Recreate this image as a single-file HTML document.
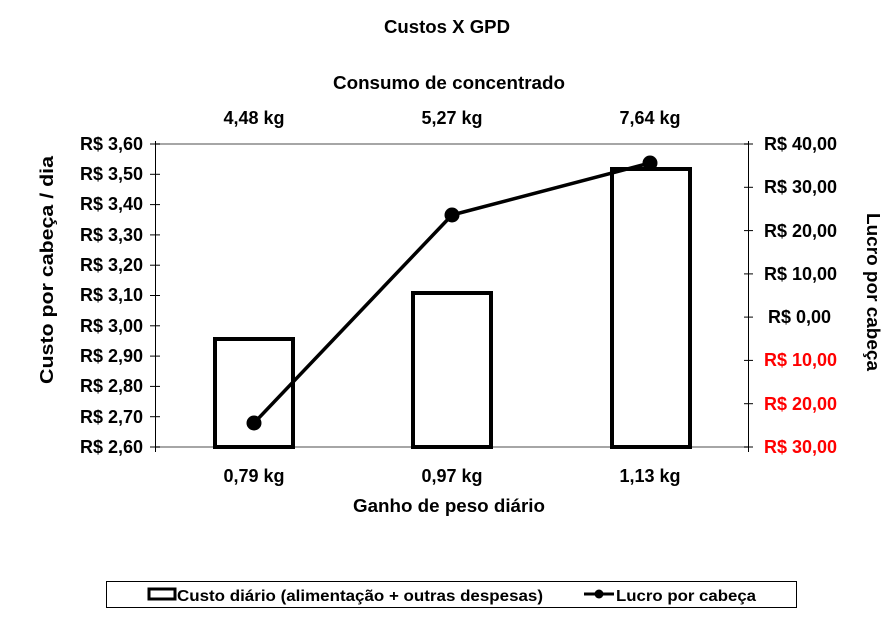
<!DOCTYPE html>
<html><head><meta charset="utf-8"><style>
body{margin:0;background:#fff;}
svg text{font-family:"Liberation Sans",Arial,sans-serif;font-weight:bold;font-size:18px;fill:#000;}
</style></head><body>
<svg width="894" height="618" viewBox="0 0 894 618" xmlns="http://www.w3.org/2000/svg">
<text x="447" y="33" text-anchor="middle" textLength="126" lengthAdjust="spacingAndGlyphs">Custos X GPD</text>
<text x="449" y="89" text-anchor="middle" textLength="232" lengthAdjust="spacingAndGlyphs">Consumo de concentrado</text>
<text x="254" y="124" text-anchor="middle">4,48 kg</text>
<text x="452" y="124" text-anchor="middle">5,27 kg</text>
<text x="650" y="124" text-anchor="middle">7,64 kg</text>
<line x1="155" y1="144" x2="748" y2="144" stroke="#888" stroke-width="1.5"/>
<line x1="155" y1="447" x2="748" y2="447" stroke="#888" stroke-width="1.5"/>
<line x1="155.5" y1="141" x2="155.5" y2="452" stroke="#000" stroke-width="1"/>
<line x1="748.5" y1="141" x2="748.5" y2="452" stroke="#000" stroke-width="1"/>
<g stroke="#000" stroke-width="1">
<line x1="150" y1="144" x2="160" y2="144"/><line x1="150" y1="174.3" x2="160" y2="174.3"/>
<line x1="150" y1="204.6" x2="160" y2="204.6"/><line x1="150" y1="234.9" x2="160" y2="234.9"/>
<line x1="150" y1="265.2" x2="160" y2="265.2"/><line x1="150" y1="295.5" x2="160" y2="295.5"/>
<line x1="150" y1="325.8" x2="160" y2="325.8"/><line x1="150" y1="356.1" x2="160" y2="356.1"/>
<line x1="150" y1="386.4" x2="160" y2="386.4"/><line x1="150" y1="416.7" x2="160" y2="416.7"/>
<line x1="150" y1="447" x2="160" y2="447"/>
<line x1="744" y1="144" x2="753" y2="144"/><line x1="744" y1="187.3" x2="753" y2="187.3"/>
<line x1="744" y1="230.6" x2="753" y2="230.6"/><line x1="744" y1="273.9" x2="753" y2="273.9"/>
<line x1="744" y1="317.1" x2="753" y2="317.1"/><line x1="744" y1="360.4" x2="753" y2="360.4"/>
<line x1="744" y1="403.7" x2="753" y2="403.7"/><line x1="744" y1="447" x2="753" y2="447"/>
</g>
<g text-anchor="end">
<text x="143" y="150">R$ 3,60</text><text x="143" y="180">R$ 3,50</text>
<text x="143" y="210">R$ 3,40</text><text x="143" y="241">R$ 3,30</text>
<text x="143" y="271">R$ 3,20</text><text x="143" y="301">R$ 3,10</text>
<text x="143" y="332">R$ 3,00</text><text x="143" y="362">R$ 2,90</text>
<text x="143" y="392">R$ 2,80</text><text x="143" y="423">R$ 2,70</text>
<text x="143" y="453">R$ 2,60</text>
</g>
<g text-anchor="start">
<text x="764" y="150">R$ 40,00</text><text x="764" y="193">R$ 30,00</text>
<text x="764" y="237">R$ 20,00</text><text x="764" y="280">R$ 10,00</text>
<text x="768" y="323">R$ 0,00</text>
<text x="764" y="366" style="fill:#f00">R$ 10,00</text>
<text x="764" y="410" style="fill:#f00">R$ 20,00</text>
<text x="764" y="453" style="fill:#f00">R$ 30,00</text>
</g>
<text transform="translate(53,270) rotate(-90)" text-anchor="middle" textLength="228" lengthAdjust="spacingAndGlyphs">Custo por cabeça / dia</text>
<text transform="translate(867,292) rotate(90)" text-anchor="middle" textLength="158" lengthAdjust="spacingAndGlyphs">Lucro por cabeça</text>
<g fill="#fff" stroke="#000" stroke-width="4">
<rect x="215" y="339" width="78" height="108"/>
<rect x="413" y="293" width="78" height="154"/>
<rect x="612" y="169" width="78" height="278"/>
</g>
<polyline points="254,423 452,215 650,163" fill="none" stroke="#000" stroke-width="3.5"/>
<circle cx="254" cy="423" r="7.5"/><circle cx="452" cy="215" r="7.5"/><circle cx="650" cy="163" r="7.5"/>
<text x="254" y="482" text-anchor="middle">0,79 kg</text>
<text x="452" y="482" text-anchor="middle">0,97 kg</text>
<text x="650" y="482" text-anchor="middle">1,13 kg</text>
<text x="449" y="512" text-anchor="middle" textLength="192" lengthAdjust="spacingAndGlyphs">Ganho de peso diário</text>
<rect x="106.5" y="581.5" width="690" height="26" fill="#fff" stroke="#000" stroke-width="1"/>
<rect x="149" y="589" width="26" height="10" fill="#fff" stroke="#000" stroke-width="3"/>
<text x="177" y="601" style="font-size:16px" textLength="366" lengthAdjust="spacingAndGlyphs">Custo diário (alimentação + outras despesas)</text>
<line x1="584" y1="594" x2="614" y2="594" stroke="#000" stroke-width="3"/>
<circle cx="599" cy="594" r="4.5"/>
<text x="616" y="601" style="font-size:16px" textLength="140" lengthAdjust="spacingAndGlyphs">Lucro por cabeça</text>
</svg>
</body></html>
